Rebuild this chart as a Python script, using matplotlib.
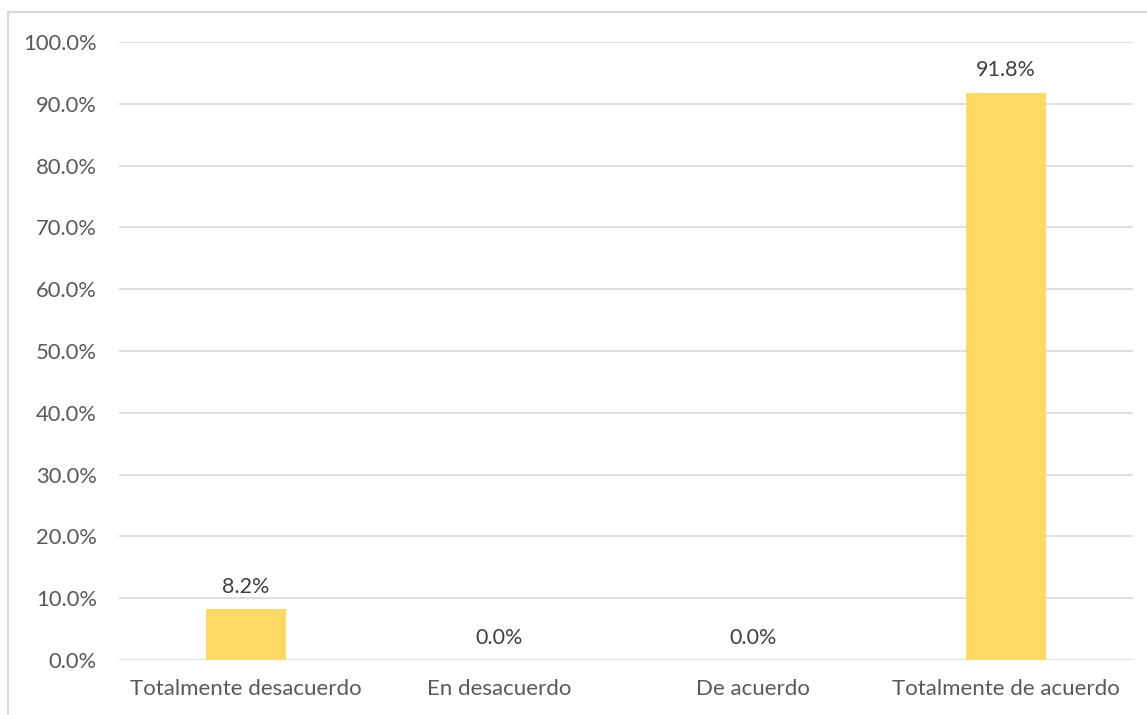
import numpy as np
import matplotlib.pyplot as plt
from matplotlib.patches import Rectangle

categories = ["Totalmente desacuerdo", "En desacuerdo", "De acuerdo", "Totalmente de acuerdo"]
values = [8.2, 0.0, 0.0, 91.8]
yticks = np.arange(0, 101, 10)

plt.rcParams['font.family'] = ['Lato', 'DejaVu Sans']

fig = plt.figure(figsize=(11.47, 7.15), dpi=100)
ax = fig.add_axes([119/1147, 55/715, 1014/1147, 618/715])

# chart border (Excel style)
fig.patches.append(Rectangle((8/1147, -0.1), 1.2, (715-12)/715 + 0.1, transform=fig.transFigure,
                             fill=False, edgecolor='#d9d9d9', linewidth=1.5))

x = np.arange(len(categories))
bars = ax.bar(x, values, width=0.316, color='#FFD966', zorder=3)

for xi, v in zip(x, values):
    ax.text(xi, v + 2.0, f"{v:.1f}%", ha='center', va='bottom', fontsize=15.5, color='#404040')

ax.set_xlim(-0.5, len(categories) - 0.5)
ax.set_ylim(0, 100)
ax.set_yticks(yticks)
ax.set_yticklabels([f"{t:.1f}%" for t in yticks], fontsize=15.8, color='#595959')
ax.set_xticks(x)
ax.set_xticklabels(categories, fontsize=16, color='#595959')
ax.tick_params(axis='x', length=0, pad=14)
ax.tick_params(axis='y', length=0, pad=16)
ax.grid(axis='y', color='#d9d9d9', linewidth=1.2, zorder=0)
for s in ax.spines.values():
    s.set_visible(False)

fig.savefig('out.png', dpi=100)
